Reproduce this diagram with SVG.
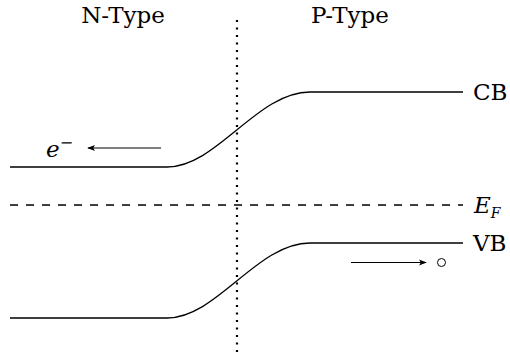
<svg xmlns="http://www.w3.org/2000/svg" width="510" height="361" viewBox="0 0 510 361">
<defs>
<style>
.band{fill:none;stroke:#000;stroke-width:1.3}
.arr{fill:none;stroke:#000;stroke-width:1.1}
</style>
<marker id="ah" viewBox="0 0 10 10" refX="9" refY="5" markerWidth="8" markerHeight="8" markerUnits="userSpaceOnUse" orient="auto">
<path d="M0,1 L10,5 L0,9 L2.5,5 Z" fill="#000"/>
</marker>
</defs>
<rect width="510" height="361" fill="#fff"/>
<g font-family="'DejaVu Serif', serif" font-size="23" fill="#000">
<g id="labels">
<text x="123" y="23" text-anchor="middle">N-Type</text>
<text x="350" y="23" text-anchor="middle">P-Type</text>
</g>
<g id="fermi-label">
<text x="474" y="213" font-style="italic">E<tspan font-size="14" dy="5">F</tspan></text>
</g>
<g id="cb-label"><text x="473" y="100">CB</text></g>
<g id="vb-label"><text x="473" y="251">VB</text></g>
<g id="electron">
<text x="46" y="157" font-style="italic">e<tspan font-size="16" dy="-9" font-style="normal">−</tspan></text>
</g>
</g>
<g id="junction">
<line x1="237" y1="20" x2="237" y2="355" stroke="#000" stroke-width="2.2" stroke-dasharray="2 5.5"/>
</g>
<g id="fermi">
<line x1="10" y1="205" x2="463" y2="205" stroke="#000" stroke-width="1.3" stroke-dasharray="8 8"/>
</g>
<g id="cb">
<path class="band" d="M10,167 H167 C217,167 257,92 310,92 H463"/>
</g>
<g id="vb">
<path class="band" d="M10,318 H167 C217,318 257,243 310,243 H463"/>
</g>
<g id="hole">
<circle cx="441.5" cy="262.5" r="4" fill="none" stroke="#000" stroke-width="1"/>
</g>
<g id="connectors">
<line class="arr" x1="161" y1="148" x2="88" y2="148" marker-end="url(#ah)"/>
<line class="arr" x1="351" y1="262.5" x2="426" y2="262.5" marker-end="url(#ah)"/>
</g>
</svg>
